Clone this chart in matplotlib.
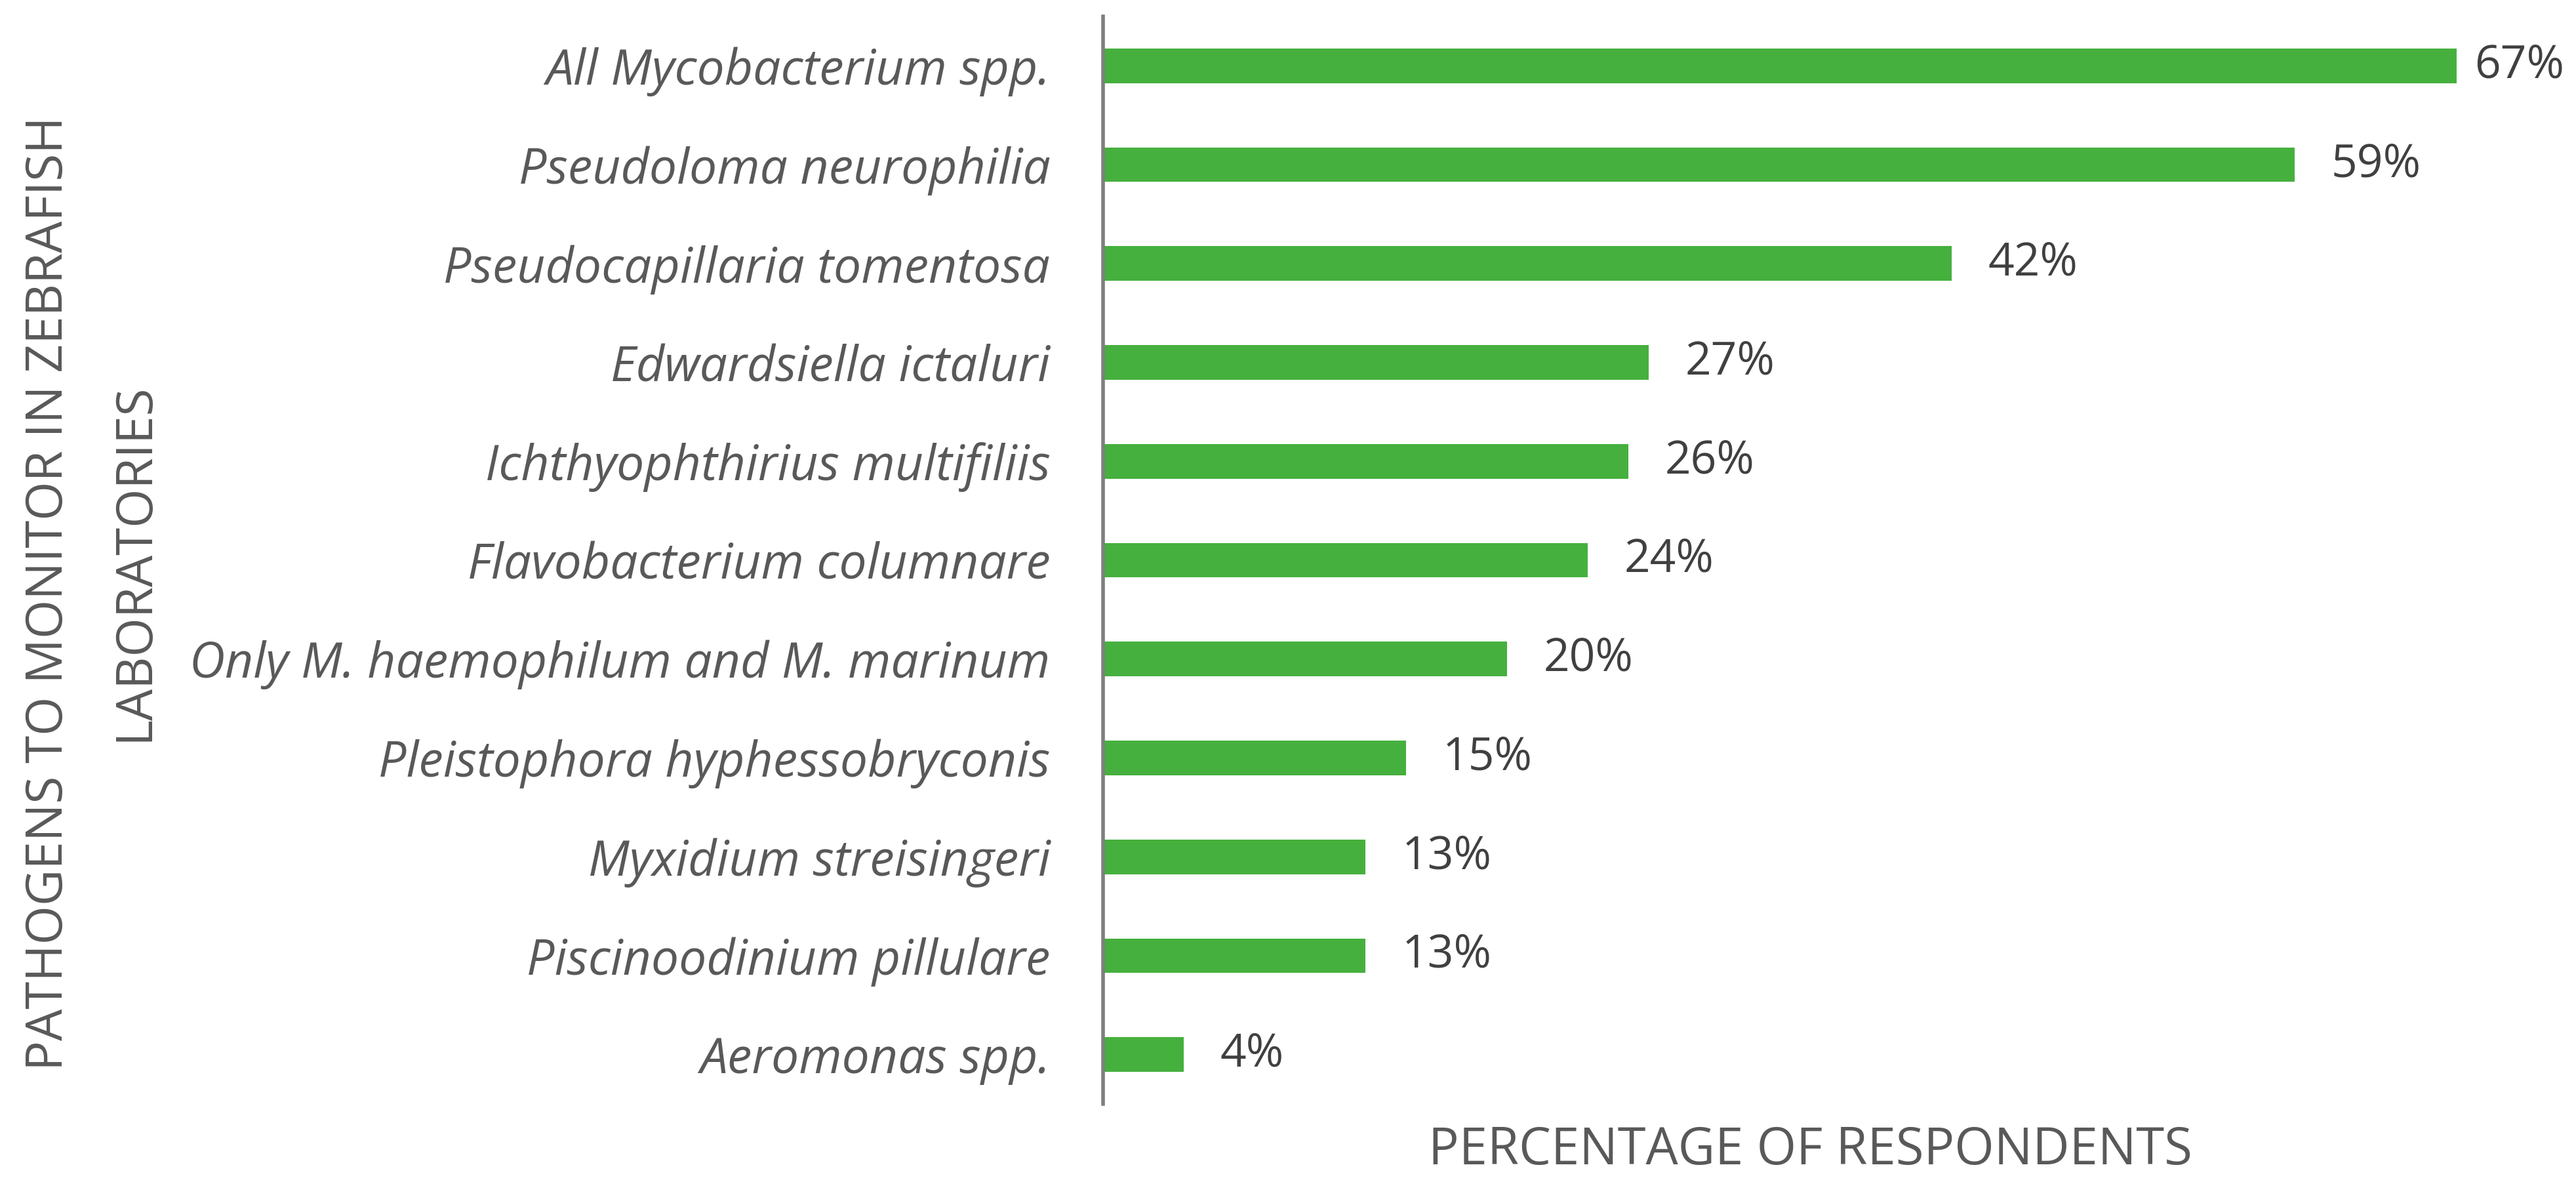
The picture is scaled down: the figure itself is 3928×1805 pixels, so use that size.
"""
Horizontal bar chart: pathogens to monitor in zebrafish laboratories.
Outputs: out.png
"""
import matplotlib.pyplot as plt

# Survey results (top to bottom as shown)
pathogens = [
    'All Mycobacterium spp.',
    'Pseudoloma neurophilia',
    'Pseudocapillaria tomentosa',
    'Edwardsiella ictaluri',
    'Ichthyophthirius multifiliis',
    'Flavobacterium columnare',
    'Only M. haemophilum and M. marinum',
    'Pleistophora hyphessobryconis',
    'Myxidium streisingeri',
    'Piscinoodinium pillulare',
    'Aeromonas spp.',
]
percent = [67, 59, 42, 27, 26, 24, 20, 15, 13, 13, 4]

green = '#45B03D'
text_gray = '#595959'
value_gray = '#404040'
axis_gray = '#7F7F7F'
font = ['Open Sans', 'DejaVu Sans']

W, H = 3928, 1805
fig = plt.figure(figsize=(W / 100, H / 100), dpi=100)
# plot area: x=0 at pixel 1682, ~30.8 px per percent
ax = fig.add_axes([1682 / W, 1 - 1683 / H, 72 * 30.8 / W, (1683 - 25) / H])

ypos = list(range(len(pathogens)))
ax.barh(ypos, percent, height=0.35, color=green)

ax.set_xlim(0, 72)
ax.set_ylim(len(pathogens) - 0.5, -0.5)

# Value labels (the longest one is squeezed against the right edge)
for y, v in zip(ypos, percent):
    off = 20 if v == max(percent) else 40
    ax.annotate(f'{v}%', xy=(v, y), xytext=(off, 0), textcoords='offset points',
                ha='left', va='center', fontsize=50, color=value_gray,
                family=font, clip_on=False)

ax.set_yticks(ypos)
ax.set_yticklabels(pathogens, fontsize=54, style='italic', color=text_gray, family=font)
ax.tick_params(axis='y', length=0, pad=58)
ax.set_xticks([])

for side in ['top', 'right', 'bottom']:
    ax.spines[side].set_visible(False)
ax.spines['left'].set_color(axis_gray)
ax.spines['left'].set_linewidth(4)

# Axis titles
fig.text(2760 / W, 1 - 1755 / H, 'PERCENTAGE OF RESPONDENTS', ha='center', va='center',
         fontsize=56, color=text_gray, family=font)
fig.text(75 / W, 1 - 905 / H, 'PATHOGENS TO MONITOR IN ZEBRAFISH', rotation=90,
         ha='center', va='center', fontsize=55, color=text_gray, family=font)
fig.text(205 / W, 1 - 857 / H, 'LABORATORIES', rotation=90,
         ha='center', va='center', fontsize=55, color=text_gray, family=font)

plt.savefig('out.png', dpi=100, facecolor='white')
plt.close()
